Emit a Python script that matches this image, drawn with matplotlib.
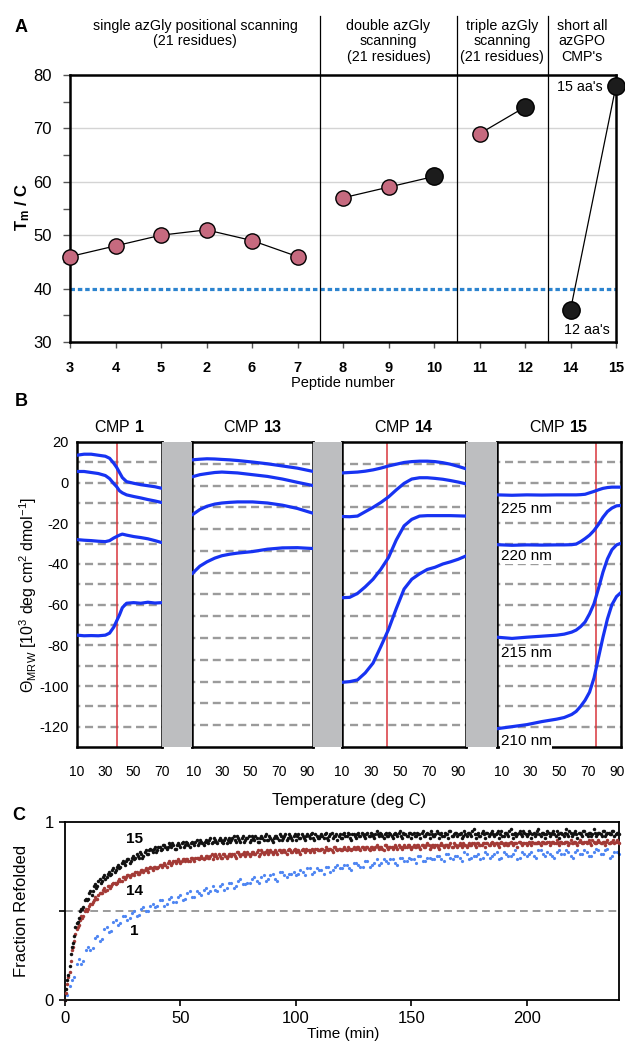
import matplotlib
matplotlib.use("Agg")
import matplotlib.pyplot as plt
import matplotlib.transforms as mtransforms
from matplotlib.patches import Rectangle
import numpy as np

plt.rcParams['font.family'] = ['Liberation Sans', 'DejaVu Sans']
plt.rcParams['mathtext.fontset'] = 'custom'
plt.rcParams['mathtext.rm'] = 'Liberation Sans'
plt.rcParams['mathtext.it'] = 'Liberation Sans:italic'
plt.rcParams['mathtext.bf'] = 'Liberation Sans:bold'
plt.rcParams['axes.unicode_minus'] = False

# ---------------- Panel A data ----------------
peptides = ['3', '4', '5', '2', '6', '7', '8', '9', '10', '11', '12', '14', '15']
tm_values = [46, 48, 50, 51, 49, 46, 57, 59, 61, 69, 74, 36, 78]
point_kind = ['pink', 'pink', 'pink', 'pink', 'pink', 'pink',
              'pink', 'pink', 'black', 'pink', 'black', 'black', 'black']
group_ranges = [(0, 6), (6, 9), (9, 11), (11, 13)]
group_titles = ['single azGly positional scanning\n(21 residues)',
                'double azGly\nscanning\n(21 residues)',
                'triple azGly\nscanning\n(21 residues)',
                "short all\nazGPO\nCMP's"]
reference_tm = 40

# ---------------- Panel B data ----------------
cmp1_T = [10, 15, 20, 25, 30, 33, 36, 38, 40, 42, 45, 50, 55, 60, 65, 70]
cmp1_curves = [
    [13.5, 14, 14, 13.5, 13, 12, 9.5, 7.5, 5, 2.5, 0.5, -0.3, -1, -1.5, -2, -2.8],
    [5.5, 5.5, 5, 4.5, 3.5, 2, -0.5, -2, -4, -5, -6, -6.8, -7.5, -8.3, -9, -9.8],
    [-28, -28.3, -28.5, -28.8, -29, -28.5, -27.2, -26.5, -25.8, -25.3, -25.8, -26.5, -27, -27.6, -28.5, -29.5],
    [-75, -75.3, -75.2, -75.3, -75, -74, -71, -68, -65, -61.5, -59.3, -59, -59.3, -58.8, -59.2, -59],
]
cmp1_tm = 38

cmp13_T = [9, 14.5, 19.5, 25, 30, 35.5, 41, 51.5, 62, 72.5, 83, 94]
cmp13_curves = [
    [11.8, 12.1, 12.3, 12.2, 12, 11.8, 11.5, 10.8, 10, 9, 8, 6.5],
    [4, 5, 5.5, 6, 6.2, 6, 5.8, 5, 4.2, 3, 1.5, 0],
    [-13.5, -11, -9.5, -8.5, -8, -7.7, -7.5, -7.5, -8, -9, -10.5, -12.7],
    [-40.5, -37, -35, -33.3, -32.2, -31.5, -31, -30.3, -29.2, -28.6, -28.5, -28.9],
]

cmp14_T = [10, 15.3, 20.7, 26, 31.4, 36.7, 42.1, 47.4, 52.8, 58.1, 63.5, 68.8, 74.1, 79.5, 84.8, 90.2, 95.5]
cmp14_curves = [
    [5.8, 6, 6.2, 6.6, 7.2, 8, 9, 9.8, 10.6, 11, 11.2, 11.2, 11, 10.5, 9.8, 8.8, 7.7],
    [-14.2, -14.3, -14, -12, -10, -7.8, -5.2, -2, 1, 3, 3.6, 3.6, 3.3, 2.9, 2.3, 1.6, 0.8],
    [-51.5, -51.3, -49.5, -46.5, -43, -38.5, -33, -25, -18.5, -15.5, -14, -13.8, -13.8, -13.8, -13.8, -13.9, -14],
    [-90.3, -90, -89.2, -86, -81.5, -74, -66, -56.5, -47.5, -43, -40.5, -38.5, -37.5, -36, -35, -33.8, -32.3],
]
cmp14_tm = 41.2

cmp15_T = [7, 17.4, 27.7, 38.1, 48.4, 53.6, 58.8, 61.9, 65.0, 68.1, 71.2, 74.3, 77.4, 80.5, 83.6, 86.7, 89.9, 93]
cmp15_curves = [
    [-6, -6.2, -6, -6.1, -6, -6, -6, -6, -5.9, -5.7, -5, -4.3, -3.5, -2.8, -2.4, -2.2, -2.2, -2.2],
    [-30.5, -30.8, -30.6, -30.7, -30.6, -30.6, -30.5, -30.2, -29, -27.5, -25.8, -23.5, -20.5, -17, -14.2, -12.5, -11.4, -11.2],
    [-76, -76.6, -76, -75.5, -75, -74.5, -73.5, -72.5, -70.8, -68.5, -64.5, -59.5, -52, -44, -37.5, -33, -30.6, -29.8],
    [-121, -120, -119, -117.5, -116.3, -115.5, -114, -112.5, -110, -107, -103, -96, -86, -76, -67, -60, -56, -54],
]
cmp15_tm = 76
cmp15_labels = ['225 nm', '220 nm', '215 nm', '210 nm']
cmp15_label_y = [-13, -36, -84, -127]

# ---------------- Panel C data ----------------
time_fast = np.arange(0, 241, 1)
frac_15 = [
    0.00, 0.11, 0.19, 0.30, 0.36, 0.43, 0.46, 0.51, 0.52, 0.57,
    0.57, 0.61, 0.61, 0.65, 0.64, 0.68, 0.67, 0.70, 0.69, 0.72,
    0.71, 0.74, 0.73, 0.76, 0.75, 0.78, 0.76, 0.79, 0.77, 0.80,
    0.79, 0.82, 0.80, 0.82, 0.81, 0.84, 0.82, 0.85, 0.83, 0.86,
    0.84, 0.86, 0.85, 0.87, 0.85, 0.88, 0.86, 0.87, 0.85, 0.88,
    0.86, 0.89, 0.87, 0.88, 0.86, 0.89, 0.87, 0.90, 0.88, 0.89,
    0.87, 0.90, 0.88, 0.91, 0.89, 0.90, 0.88, 0.91, 0.89, 0.90,
    0.88, 0.91, 0.90, 0.92, 0.89, 0.91, 0.89, 0.92, 0.90, 0.91,
    0.89, 0.92, 0.90, 0.91, 0.89, 0.92, 0.90, 0.93, 0.90, 0.91,
    0.89, 0.92, 0.91, 0.93, 0.90, 0.92, 0.90, 0.93, 0.91, 0.92,
    0.90, 0.93, 0.91, 0.92, 0.90, 0.93, 0.91, 0.94, 0.90, 0.92,
    0.91, 0.93, 0.91, 0.94, 0.90, 0.93, 0.91, 0.92, 0.90, 0.93,
    0.91, 0.94, 0.92, 0.93, 0.90, 0.93, 0.91, 0.94, 0.92, 0.93,
    0.91, 0.94, 0.92, 0.93, 0.91, 0.95, 0.92, 0.93, 0.91, 0.94,
    0.92, 0.93, 0.91, 0.94, 0.92, 0.95, 0.91, 0.93, 0.92, 0.94,
    0.91, 0.94, 0.92, 0.93, 0.91, 0.95, 0.92, 0.94, 0.91, 0.93,
    0.92, 0.95, 0.91, 0.94, 0.92, 0.93, 0.91, 0.95, 0.92, 0.94,
    0.92, 0.93, 0.91, 0.95, 0.92, 0.94, 0.92, 0.96, 0.91, 0.94,
    0.92, 0.95, 0.91, 0.94, 0.93, 0.95, 0.92, 0.94, 0.91, 0.95,
    0.92, 0.94, 0.92, 0.96, 0.91, 0.94, 0.93, 0.95, 0.92, 0.94,
    0.92, 0.95, 0.91, 0.94, 0.93, 0.96, 0.92, 0.94, 0.91, 0.95,
    0.92, 0.94, 0.93, 0.95, 0.91, 0.94, 0.92, 0.96, 0.92, 0.94,
    0.93, 0.95, 0.91, 0.94, 0.92, 0.95, 0.93, 0.94, 0.92, 0.96,
    0.92, 0.94, 0.93, 0.95, 0.92, 0.94, 0.93, 0.95, 0.92, 0.94,
    0.93]
frac_14 = [
    0.00, 0.09, 0.16, 0.28, 0.33, 0.40, 0.42, 0.47, 0.47, 0.51,
    0.51, 0.54, 0.55, 0.58, 0.57, 0.60, 0.60, 0.63, 0.62, 0.64,
    0.64, 0.66, 0.65, 0.67, 0.67, 0.69, 0.68, 0.70, 0.69, 0.71,
    0.70, 0.72, 0.71, 0.73, 0.72, 0.74, 0.72, 0.75, 0.73, 0.75,
    0.74, 0.76, 0.75, 0.77, 0.75, 0.78, 0.76, 0.78, 0.77, 0.79,
    0.77, 0.79, 0.78, 0.79, 0.78, 0.80, 0.78, 0.80, 0.79, 0.81,
    0.79, 0.81, 0.80, 0.81, 0.79, 0.82, 0.80, 0.81, 0.80, 0.82,
    0.80, 0.82, 0.81, 0.82, 0.80, 0.83, 0.81, 0.82, 0.81, 0.83,
    0.81, 0.83, 0.82, 0.83, 0.81, 0.84, 0.82, 0.83, 0.82, 0.84,
    0.82, 0.84, 0.82, 0.84, 0.83, 0.84, 0.82, 0.85, 0.83, 0.84,
    0.83, 0.84, 0.82, 0.85, 0.83, 0.84, 0.83, 0.85, 0.83, 0.85,
    0.84, 0.85, 0.83, 0.86, 0.84, 0.85, 0.83, 0.86, 0.84, 0.85,
    0.84, 0.86, 0.84, 0.85, 0.84, 0.86, 0.85, 0.86, 0.84, 0.86,
    0.85, 0.86, 0.84, 0.86, 0.85, 0.87, 0.85, 0.86, 0.84, 0.87,
    0.85, 0.86, 0.85, 0.87, 0.85, 0.86, 0.85, 0.87, 0.86, 0.87,
    0.85, 0.87, 0.86, 0.87, 0.85, 0.87, 0.86, 0.88, 0.85, 0.87,
    0.86, 0.87, 0.85, 0.88, 0.86, 0.87, 0.86, 0.88, 0.86, 0.87,
    0.86, 0.88, 0.86, 0.87, 0.86, 0.88, 0.87, 0.88, 0.86, 0.88,
    0.87, 0.88, 0.86, 0.88, 0.87, 0.89, 0.87, 0.88, 0.86, 0.89,
    0.87, 0.88, 0.87, 0.89, 0.87, 0.88, 0.86, 0.89, 0.87, 0.88,
    0.87, 0.89, 0.87, 0.88, 0.88, 0.89, 0.87, 0.89, 0.88, 0.89,
    0.87, 0.89, 0.88, 0.90, 0.87, 0.89, 0.88, 0.89, 0.87, 0.90,
    0.88, 0.89, 0.87, 0.90, 0.88, 0.89, 0.88, 0.90, 0.87, 0.89,
    0.88, 0.90, 0.88, 0.89, 0.87, 0.90, 0.88, 0.89, 0.88, 0.90,
    0.88]
time_fast_b = np.arange(0.5, 240, 1)
frac_15_b = [
    0.06, 0.14, 0.26, 0.32, 0.41, 0.44, 0.50, 0.51, 0.56, 0.56,
    0.60, 0.59, 0.64, 0.63, 0.67, 0.66, 0.69, 0.68, 0.71, 0.70,
    0.73, 0.72, 0.75, 0.74, 0.77, 0.77, 0.78, 0.79, 0.78, 0.81,
    0.80, 0.81, 0.83, 0.80, 0.83, 0.82, 0.84, 0.84, 0.85, 0.83,
    0.86, 0.84, 0.87, 0.86, 0.86, 0.87, 0.88, 0.85, 0.87, 0.87,
    0.88, 0.86, 0.89, 0.87, 0.88, 0.88, 0.89, 0.87, 0.90, 0.88,
    0.89, 0.89, 0.90, 0.88, 0.91, 0.89, 0.90, 0.90, 0.88, 0.91,
    0.90, 0.89, 0.91, 0.90, 0.92, 0.90, 0.91, 0.89, 0.91, 0.92,
    0.90, 0.91, 0.92, 0.89, 0.91, 0.91, 0.92, 0.90, 0.92, 0.90,
    0.91, 0.92, 0.90, 0.92, 0.91, 0.93, 0.91, 0.92, 0.90, 0.93,
    0.92, 0.91, 0.93, 0.91, 0.92, 0.92, 0.93, 0.91, 0.93, 0.91,
    0.92, 0.92, 0.93, 0.91, 0.92, 0.94, 0.92, 0.93, 0.92, 0.91,
    0.93, 0.92, 0.94, 0.91, 0.93, 0.92, 0.93, 0.92, 0.94, 0.92,
    0.93, 0.92, 0.94, 0.92, 0.93, 0.93, 0.94, 0.92, 0.93, 0.92,
    0.94, 0.92, 0.93, 0.93, 0.94, 0.92, 0.94, 0.93, 0.92, 0.94,
    0.93, 0.92, 0.94, 0.93, 0.94, 0.92, 0.93, 0.93, 0.95, 0.92,
    0.93, 0.94, 0.93, 0.92, 0.94, 0.93, 0.95, 0.92, 0.93, 0.94,
    0.93, 0.94, 0.92, 0.93, 0.94, 0.93, 0.95, 0.93, 0.93, 0.92,
    0.94, 0.93, 0.94, 0.92, 0.94, 0.93, 0.93, 0.95, 0.93, 0.92,
    0.94, 0.93, 0.95, 0.93, 0.93, 0.92, 0.94, 0.93, 0.95, 0.93,
    0.93, 0.94, 0.93, 0.92, 0.95, 0.93, 0.94, 0.93, 0.93, 0.94,
    0.93, 0.95, 0.92, 0.93, 0.94, 0.93, 0.94, 0.93, 0.95, 0.92,
    0.94, 0.93, 0.94, 0.93, 0.95, 0.93, 0.92, 0.94, 0.93, 0.94,
    0.93, 0.94, 0.92, 0.95, 0.93, 0.94, 0.93, 0.95, 0.93, 0.94]
frac_14_b = [
    0.04, 0.13, 0.22, 0.30, 0.37, 0.41, 0.45, 0.46, 0.50, 0.50,
    0.53, 0.54, 0.56, 0.57, 0.59, 0.60, 0.62, 0.61, 0.64, 0.63,
    0.65, 0.66, 0.66, 0.68, 0.67, 0.69, 0.69, 0.70, 0.70, 0.71,
    0.72, 0.71, 0.72, 0.73, 0.73, 0.73, 0.74, 0.74, 0.75, 0.74,
    0.75, 0.76, 0.76, 0.76, 0.77, 0.77, 0.77, 0.78, 0.78, 0.78,
    0.78, 0.79, 0.79, 0.78, 0.80, 0.79, 0.80, 0.80, 0.80, 0.80,
    0.80, 0.81, 0.80, 0.82, 0.81, 0.81, 0.82, 0.80, 0.82, 0.81,
    0.81, 0.82, 0.82, 0.81, 0.83, 0.82, 0.82, 0.83, 0.82, 0.82,
    0.82, 0.83, 0.82, 0.84, 0.82, 0.83, 0.83, 0.84, 0.83, 0.83,
    0.83, 0.83, 0.84, 0.83, 0.84, 0.83, 0.84, 0.84, 0.83, 0.85,
    0.84, 0.83, 0.84, 0.84, 0.85, 0.84, 0.84, 0.84, 0.85, 0.84,
    0.84, 0.85, 0.84, 0.85, 0.85, 0.84, 0.86, 0.85, 0.85, 0.84,
    0.85, 0.85, 0.86, 0.85, 0.85, 0.85, 0.86, 0.85, 0.86, 0.85,
    0.86, 0.85, 0.86, 0.85, 0.86, 0.86, 0.86, 0.85, 0.87, 0.86,
    0.86, 0.86, 0.86, 0.86, 0.87, 0.86, 0.86, 0.86, 0.87, 0.86,
    0.86, 0.86, 0.87, 0.86, 0.87, 0.86, 0.87, 0.87, 0.86, 0.87,
    0.87, 0.86, 0.87, 0.87, 0.87, 0.87, 0.87, 0.86, 0.88, 0.87,
    0.87, 0.87, 0.88, 0.87, 0.87, 0.87, 0.88, 0.87, 0.88, 0.87,
    0.87, 0.88, 0.88, 0.87, 0.88, 0.88, 0.88, 0.87, 0.88, 0.88,
    0.88, 0.87, 0.88, 0.88, 0.88, 0.88, 0.89, 0.88, 0.88, 0.88,
    0.88, 0.88, 0.89, 0.88, 0.88, 0.88, 0.89, 0.88, 0.88, 0.89,
    0.88, 0.89, 0.88, 0.88, 0.89, 0.88, 0.89, 0.89, 0.88, 0.88,
    0.89, 0.88, 0.89, 0.89, 0.88, 0.89, 0.89, 0.88, 0.90, 0.88,
    0.89, 0.89, 0.88, 0.89, 0.89, 0.88, 0.89, 0.90, 0.89, 0.89]
time_slow = np.arange(0, 241, 2)
frac_1 = [
    0.00, 0.08, 0.13, 0.23, 0.22, 0.30, 0.29, 0.36, 0.34, 0.41,
    0.39, 0.45, 0.43, 0.47, 0.46, 0.50, 0.48, 0.52, 0.50, 0.54,
    0.53, 0.56, 0.54, 0.58, 0.55, 0.59, 0.57, 0.61, 0.58, 0.60,
    0.62, 0.60, 0.64, 0.61, 0.65, 0.63, 0.66, 0.64, 0.68, 0.65,
    0.66, 0.69, 0.66, 0.70, 0.68, 0.71, 0.67, 0.72, 0.69, 0.71,
    0.70, 0.73, 0.70, 0.74, 0.72, 0.73, 0.71, 0.75, 0.73, 0.76,
    0.74, 0.76, 0.73, 0.77, 0.75, 0.78, 0.75, 0.77, 0.76, 0.79,
    0.77, 0.79, 0.76, 0.80, 0.78, 0.79, 0.77, 0.81, 0.78, 0.80,
    0.79, 0.81, 0.78, 0.82, 0.79, 0.81, 0.78, 0.82, 0.80, 0.81,
    0.79, 0.83, 0.80, 0.82, 0.79, 0.83, 0.81, 0.82, 0.79, 0.83,
    0.81, 0.83, 0.80, 0.84, 0.81, 0.82, 0.80, 0.84, 0.82, 0.83,
    0.80, 0.84, 0.82, 0.83, 0.81, 0.85, 0.82, 0.84, 0.80, 0.83,
    0.82]
time_slow_b = np.arange(1, 240, 2)
frac_1_b = [
    0.03, 0.11, 0.20, 0.20, 0.28, 0.28, 0.35, 0.33, 0.40, 0.38,
    0.44, 0.42, 0.47, 0.45, 0.49, 0.47, 0.51, 0.50, 0.53, 0.52,
    0.56, 0.53, 0.57, 0.55, 0.58, 0.56, 0.60, 0.58, 0.61, 0.59,
    0.63, 0.61, 0.62, 0.64, 0.62, 0.66, 0.63, 0.67, 0.65, 0.66,
    0.68, 0.67, 0.69, 0.67, 0.70, 0.68, 0.72, 0.70, 0.71, 0.72,
    0.71, 0.72, 0.74, 0.71, 0.74, 0.73, 0.75, 0.72, 0.75, 0.74,
    0.76, 0.74, 0.77, 0.76, 0.75, 0.78, 0.76, 0.79, 0.77, 0.78,
    0.79, 0.77, 0.80, 0.78, 0.80, 0.79, 0.81, 0.78, 0.80, 0.79,
    0.81, 0.79, 0.82, 0.80, 0.81, 0.80, 0.83, 0.79, 0.81, 0.82,
    0.80, 0.82, 0.81, 0.83, 0.80, 0.82, 0.81, 0.84, 0.80, 0.82,
    0.82, 0.81, 0.84, 0.82, 0.83, 0.81, 0.83, 0.82, 0.84, 0.81,
    0.83, 0.82, 0.84, 0.81, 0.83, 0.84, 0.82, 0.85, 0.81, 0.83]

# ---------------- Figure ----------------
W, H = 625, 1049
fig = plt.figure(figsize=(W / 100, H / 100), dpi=100)


def fx(px):
    return px / W


def fy(py):
    return 1 - py / H


PINK = '#c66a7f'
BLACK = '#1c1c1c'

# ===== Panel A =====
axA = fig.add_axes([fx(70), fy(342), fx(616) - fx(70), fy(75) - fy(342)])
x_idx = np.arange(len(peptides))
axA.set_xlim(0, len(peptides) - 1)
axA.set_ylim(30, 80)
for y in [50, 60, 70]:
    axA.axhline(y, color='#d4d4d4', lw=1.0, zorder=0)
axA.axhline(reference_tm, color='#2c84cf', lw=2.3, linestyle=(0, (1.4, 0.9)), zorder=1)
for (a, b) in group_ranges:
    axA.plot(x_idx[a:b], tm_values[a:b], color='black', lw=0.9, zorder=2, clip_on=False)
for i in x_idx:
    if point_kind[i] == 'pink':
        axA.plot(x_idx[i], tm_values[i], 'o', ms=11, mfc=PINK, mec='black', mew=1.0, zorder=3, clip_on=False)
    else:
        axA.plot(x_idx[i], tm_values[i], 'o', ms=12.5, mfc=BLACK, mec='black', mew=1.0, zorder=3, clip_on=False)
boundaries = [5.5, 8.5, 10.5]
top_frac = (342 - 16) / (342 - 75)
for bx in boundaries:
    axA.axvline(bx, ymin=0, ymax=top_frac, color='black', lw=0.9, clip_on=False, zorder=2)
edges = [0, 5.5, 8.5, 10.5, 12]
title_tr = mtransforms.blended_transform_factory(axA.transData, fig.transFigure)
for k, title in enumerate(group_titles):
    cx = (edges[k] + edges[k + 1]) / 2
    axA.text(cx, fy(19), title, transform=title_tr,
             ha='center', va='top', fontsize=10.3, linespacing=1.12)
axA.text(11.7, 77.8, "15 aa's", ha='right', va='center', fontsize=10.3)
axA.text(11.35, 32.3, "12 aa's", ha='center', va='center', fontsize=10.3)
axA.set_yticks([30, 40, 50, 60, 70, 80])
axA.set_yticks([35, 45, 55, 65, 75], minor=True)
axA.set_xticks(x_idx)
axA.set_xticklabels(peptides, fontweight='bold', fontsize=10.5)
axA.tick_params(axis='y', which='both', direction='out', length=5, width=1, labelsize=12, pad=8, color='#555555')
axA.tick_params(axis='x', direction='out', length=4, width=1, pad=10, color='#555555')
for s in axA.spines.values():
    s.set_linewidth(1.8)
fig.text(fx(23), fy(207), r'$\mathbf{T_m}$ / C', rotation=90, ha='center', va='center',
         fontweight='bold', fontsize=12)
fig.text(fx(343), fy(383), 'Peptide number', ha='center', va='center', fontsize=10.5)
fig.text(fx(15), fy(28), 'A', ha='left', va='center', fontsize=13, fontweight='bold')

# ===== Panel B =====
b_top, b_bot = 442, 747
panels = [
    ('1', 77, 162, (10, 70), (-130, 20), cmp1_T, cmp1_curves, cmp1_tm, [10, 30, 50, 70]),
    ('13', 192, 313, (9, 94), (-120, 20), cmp13_T, cmp13_curves, None, [10, 30, 50, 70, 90]),
    ('14', 342, 466, (10, 95.5), (-120, 20), cmp14_T, cmp14_curves, cmp14_tm, [10, 30, 50, 70, 90]),
    ('15', 497, 621, (7, 93), (-130, 20), cmp15_T, cmp15_curves, cmp15_tm, [10, 30, 50, 70, 90]),
]
for (x0, x1) in [(162, 192), (313, 342), (466, 497)]:
    fig.patches.append(Rectangle((fx(x0), fy(b_bot)), fx(x1) - fx(x0), fy(b_top) - fy(b_bot),
                                 transform=fig.transFigure, facecolor='#bdbec0', edgecolor='none', zorder=0))
axes_B = []
for name, x0, x1, xl, yl, T, curves, tmv, xt in panels:
    ax = fig.add_axes([fx(x0), fy(b_bot), fx(x1) - fx(x0), fy(b_top) - fy(b_bot)])
    ax.set_xlim(*xl)
    ax.set_ylim(*yl)
    for g in np.arange(yl[0] + 10, 20, 10):
        ax.axhline(g, color='#9b9b9b', lw=1.7, linestyle=(2, (3.4, 2.0)), zorder=1)
    if tmv is not None:
        ax.axvline(tmv, color='#d8363c', lw=1.1, zorder=2)
    for c in curves:
        ax.plot(T, c, color='#1733f2', lw=2.3, zorder=3, solid_capstyle='round')
    ax.set_xticks(xt)
    ax.tick_params(axis='x', length=0, labelsize=10, pad=13)
    ax.tick_params(axis='y', length=0)
    if name == '1':
        ax.set_yticks(np.arange(-120, 21, 20))
        ax.tick_params(axis='y', labelsize=10.5, pad=6)
    else:
        ax.set_yticks([])
    for s in ax.spines.values():
        s.set_linewidth(1.8)
    ax.set_title(r'CMP $\mathbf{' + name + '}$', fontsize=11.5, pad=7)
    axes_B.append(ax)

ax15 = axes_B[3]
for lab, ly in zip(cmp15_labels, cmp15_label_y):
    ax15.text(9.5, ly, lab, ha='left', va='center', fontsize=11,
              bbox=dict(facecolor='white', edgecolor='none', pad=0.5))

fig.text(fx(28), fy(595), r'Θ$_{\mathrm{MRW}}$ [10$^{3}$ deg cm$^{2}$ dmol$^{-1}$]',
         rotation=90, ha='center', va='center', fontsize=11.5)
fig.text(fx(349), fy(801), 'Temperature (deg C)', ha='center', va='center', fontsize=12)
fig.text(fx(15), fy(402), 'B', ha='left', va='center', fontsize=13, fontweight='bold')

# ===== Panel C =====
axC = fig.add_axes([fx(65), fy(1000), fx(619) - fx(65), fy(822) - fy(1000)])
axC.set_xlim(0, 240)
axC.set_ylim(0, 1)
axC.axhline(0.5, color='#9b9b9b', lw=1.4, linestyle=(0, (4, 2.5)), zorder=1)
for tt, ff in [(time_slow, frac_1), (time_slow_b, frac_1_b)]:
    axC.plot(tt, ff, 'o', ms=2.3, mew=0, color='#4f86f2', zorder=2, clip_on=False)
for tt, ff in [(time_fast, frac_14), (time_fast_b, frac_14_b)]:
    axC.plot(tt, ff, 'o', ms=2.5, mew=0, color='#a33a36', zorder=3, clip_on=False)
for tt, ff in [(time_fast, frac_15), (time_fast_b, frac_15_b)]:
    axC.plot(tt, ff, 'o', ms=2.5, mew=0, color='#111111', zorder=4, clip_on=False)
axC.text(30, 0.905, '15', ha='center', va='center', fontsize=11, fontweight='bold')
axC.text(30, 0.61, '14', ha='center', va='center', fontsize=11, fontweight='bold')
axC.text(30, 0.385, '1', ha='center', va='center', fontsize=11, fontweight='bold')
axC.set_xticks([0, 50, 100, 150, 200])
axC.set_yticks([0, 0.5, 1])
axC.set_yticklabels(['0', '', '1'])
axC.tick_params(axis='both', direction='out', length=4, width=1.2, labelsize=12, pad=4)
for s in axC.spines.values():
    s.set_linewidth(1.3)
fig.text(fx(343), fy(1034), 'Time (min)', ha='center', va='center', fontsize=11)
fig.text(fx(22), fy(911), 'Fraction Refolded', rotation=90, ha='center', va='center', fontsize=12)
fig.text(fx(12), fy(815), 'C', ha='left', va='center', fontsize=13, fontweight='bold')

fig.savefig('out.png', dpi=100)
